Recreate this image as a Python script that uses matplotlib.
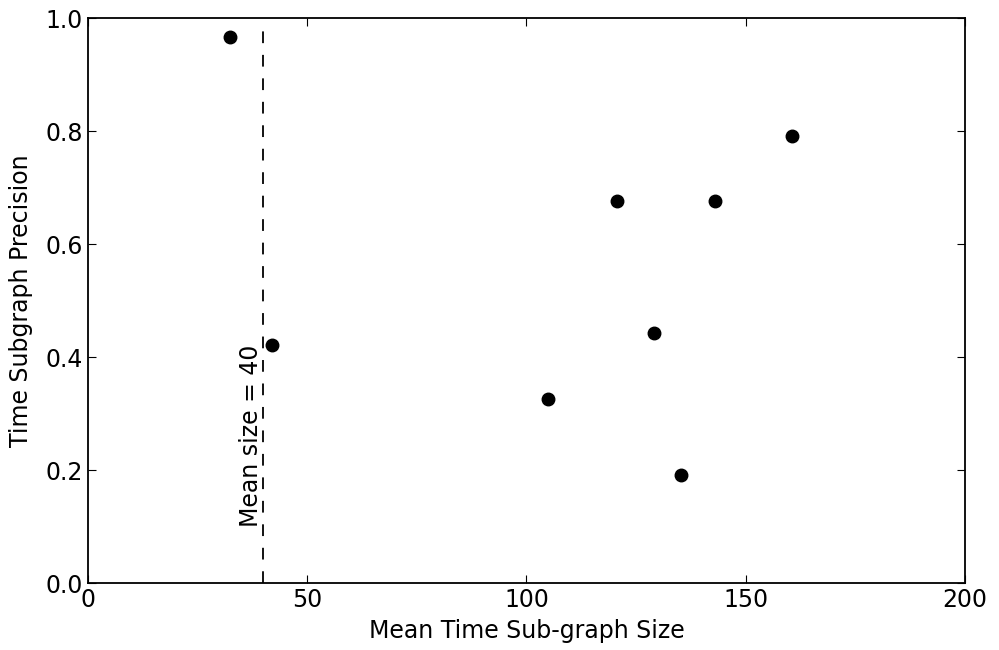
import matplotlib
matplotlib.use('Agg')
import matplotlib.pyplot as plt

# mean sub-graph size vs precision
sizes = [32.3, 42.0, 105.0, 120.6, 129.1, 135.2, 143.0, 160.5]
precision = [0.967, 0.421, 0.326, 0.677, 0.442, 0.191, 0.677, 0.792]
mean_size = 40

fig = plt.figure(figsize=(9.99, 6.5), dpi=100)
ax = fig.add_axes([0.088, 0.103, 0.878, 0.869])

ax.plot(sizes, precision, 'ko', markersize=9)
ax.axvline(mean_size, ymin=0, ymax=0.98, color='k', linestyle='--', dashes=(6.5, 6.5), linewidth=1.3)
ax.text(mean_size, 0.1, 'Mean size = 40', rotation=90, ha='right', va='bottom', fontsize=17)

ax.set_xlim(0, 200)
ax.set_ylim(0, 1.0)
ax.set_xticks([0, 50, 100, 150, 200])
ax.set_yticks([0.0, 0.2, 0.4, 0.6, 0.8, 1.0])
ax.set_xlabel('Mean Time Sub-graph Size', fontsize=17, labelpad=5)
ax.set_ylabel('Time Subgraph Precision', fontsize=17, labelpad=9)
ax.tick_params(direction='in', top=True, right=True, labelsize=17, length=6)
for s in ax.spines.values():
    s.set_linewidth(1.3)

fig.savefig('out.png', dpi=100)
